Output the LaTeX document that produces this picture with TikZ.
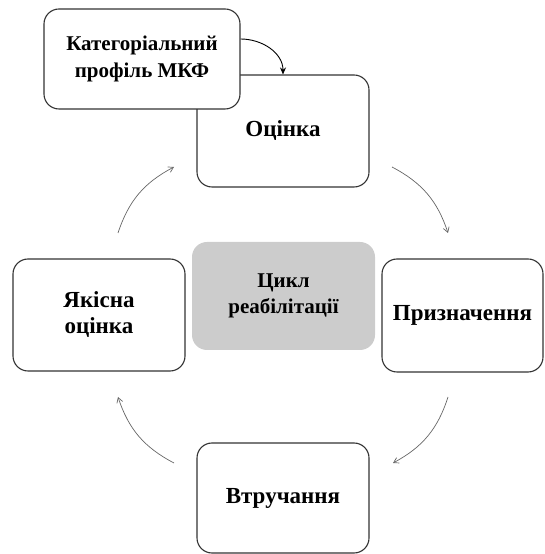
\documentclass[tikz,border=0pt]{standalone}
\usepackage{fontspec}
\setmainfont{Liberation Serif}
\usetikzlibrary{positioning}
\usetikzlibrary{arrows.meta}

\begin{document}
\begin{tikzpicture}[x=1pt, y=1pt]
      \tikzstyle{stage} =  [draw=black!80, line width=1.1pt, fill=white, rounded corners=15pt, align=center, font=\fontsize{23}{26}\selectfont\bfseries]
      \tikzstyle{core} =  [fill=black!20, rounded corners=15pt, align=center, font=\fontsize{21}{26}\selectfont\bfseries]
      \tikzstyle{cyclearrow} =  [-{Straight Barb[length=5pt, width=6pt]}, black!60, line width=0.7pt, bend left=22]

      \useasboundingbox (0,0) rectangle (544,554);

      \node (otsinka) [stage, minimum width=172pt, minimum height=112pt] at (283,423) {Оцінка};
      \node (profile) [stage, minimum width=196pt, minimum height=100pt, font=\fontsize{21}{27}\selectfont\bfseries] at (142,495) {Категоріальний\\профіль МКФ};
      \node (cyclecore) [core, minimum width=183pt, minimum height=108pt] at (283.5,258) {Цикл\\реабілітації};
      \node (pryznach) [stage, minimum width=161pt, minimum height=113pt] at (462.5,238.5) {Призначення};
      \node (yakisna) [stage, minimum width=172pt, minimum height=112pt] at (99,239) {Якісна\\оцінка};
      \node (vtruch) [stage, minimum width=172pt, minimum height=110pt] at (283,56) {Втручання};

      % free ends of the cycle arrows
      \coordinate (a1) at (392,387);
      \coordinate (b1) at (448,321);
      \coordinate (a2) at (448,157);
      \coordinate (b2) at (393,91);
      \coordinate (a3) at (174,91);
      \coordinate (b3) at (118,157);
      \coordinate (a4) at (118,321);
      \coordinate (b4) at (174,387);

      \draw [cyclearrow] (a1) to (b1);
      \draw [cyclearrow] (a2) to (b2);
      \draw [cyclearrow] (a3) to (b3);
      \draw [cyclearrow] (a4) to (b4);

      \draw [-{Stealth[length=7pt, width=6pt]}, line width=0.9pt] ([yshift=20pt]profile.east) to[out=0, in=90] (otsinka.north);
    \end{tikzpicture}
\end{document}
